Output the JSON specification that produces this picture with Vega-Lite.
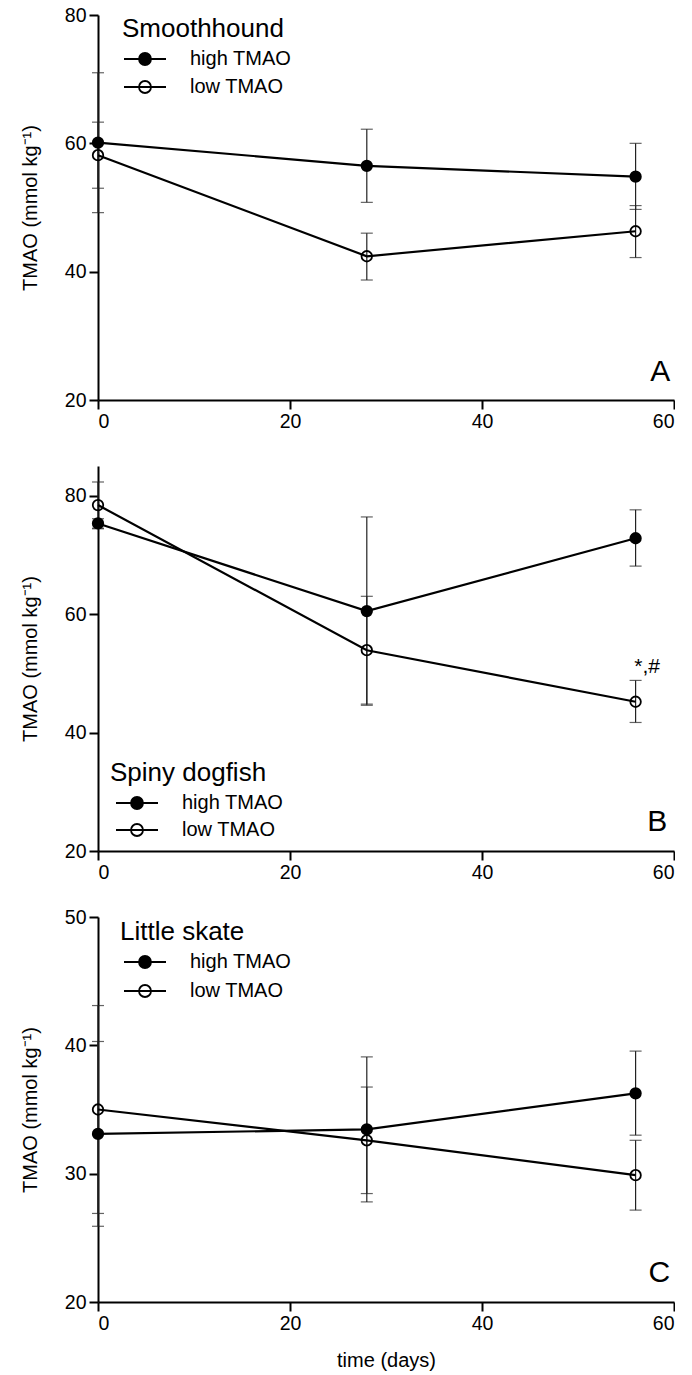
{
  "$schema": "https://vega.github.io/schema/vega-lite/v6.json",
  "padding": {"left": 20, "top": 5, "right": 0, "bottom": 0},
  "background": "white",
  "config": {
    "font": "Liberation Sans",
    "view": {"stroke": null},
    "axis": {"grid": false, "domainColor": "black", "domainWidth": 2, "tickColor": "black", "tickWidth": 2, "tickSize": 9, "labelFontSize": 19.5, "labelColor": "black", "labelPadding": 3, "titleFontSize": 20, "titleFontWeight": "normal", "titleColor": "black", "labelFont": "Liberation Sans", "titleFont": "Liberation Sans"},
    "legend": {"padding": 0, "symbolType": "M-3.5,0L3.5,0M1,0A1,1,0,1,1,-1,0A1,1,0,1,1,1,0", "symbolSize": 144, "symbolStrokeColor": "black", "symbolStrokeWidth": 1.8, "labelOffset": 35, "rowPadding": 8, "titlePadding": 7, "titleFontSize": 26, "titleFontWeight": "normal", "titleColor": "black", "labelFontSize": 20, "labelColor": "black", "titleFont": "Liberation Sans", "labelFont": "Liberation Sans", "orient": "none"}
  },
  "datasets": {
    "smooth": [
      {"series": "high TMAO", "day": 0, "mean": 60.1, "lo": 49.2, "hi": 71.0},
      {"series": "high TMAO", "day": 28, "mean": 56.5, "lo": 50.8, "hi": 62.2},
      {"series": "high TMAO", "day": 56, "mean": 54.8, "lo": 49.7, "hi": 60.0},
      {"series": "low TMAO", "day": 0, "mean": 58.15, "lo": 53.0, "hi": 63.3},
      {"series": "low TMAO", "day": 28, "mean": 42.4, "lo": 38.7, "hi": 46.0},
      {"series": "low TMAO", "day": 56, "mean": 46.3, "lo": 42.2, "hi": 50.3}
    ],
    "dogfish": [
      {"series": "high TMAO", "day": 0, "mean": 75.3, "lo": 74.5, "hi": 76.1},
      {"series": "high TMAO", "day": 28, "mean": 60.5, "lo": 44.6, "hi": 76.4},
      {"series": "high TMAO", "day": 56, "mean": 72.8, "lo": 68.1, "hi": 77.6},
      {"series": "low TMAO", "day": 0, "mean": 78.4, "lo": 74.4, "hi": 82.3},
      {"series": "low TMAO", "day": 28, "mean": 53.9, "lo": 44.8, "hi": 63.0},
      {"series": "low TMAO", "day": 56, "mean": 45.2, "lo": 41.7, "hi": 48.8}
    ],
    "skate": [
      {"series": "high TMAO", "day": 0, "mean": 33.1, "lo": 25.9, "hi": 40.3},
      {"series": "high TMAO", "day": 28, "mean": 33.45, "lo": 27.8, "hi": 39.1},
      {"series": "high TMAO", "day": 56, "mean": 36.26, "lo": 33.0, "hi": 39.55},
      {"series": "low TMAO", "day": 0, "mean": 35.0, "lo": 26.9, "hi": 43.1},
      {"series": "low TMAO", "day": 28, "mean": 32.6, "lo": 28.45, "hi": 36.75},
      {"series": "low TMAO", "day": 56, "mean": 29.88, "lo": 27.16, "hi": 32.6}
    ],
    "letters": [
      {"panel": "A", "text": "A", "day": 59.6, "tmao": 23.0},
      {"panel": "B", "text": "B", "day": 59.3, "tmao": 23.3},
      {"panel": "C", "text": "C", "day": 59.6, "tmao": 21.55}
    ],
    "notes": [
      {"panel": "B", "text": "*,#", "day": 57.2, "tmao": 50.1}
    ]
  },
  "vconcat": [
    {
      "width": 576, "height": 385,
      "data": {"name": "smooth"},
      "layer": [
        {"mark": {"type": "rule", "color": "#222", "strokeWidth": 1.2, "clip": false},
         "encoding": {"x": {"field": "day", "type": "quantitative", "scale": {"domain": [0, 60], "nice": false}, "axis": {"values": [0, 20, 40, 60], "title": null}},
                      "y": {"field": "lo", "type": "quantitative", "scale": {"domain": [20, 80], "nice": false, "zero": false}, "axis": {"values": [20, 40, 60, 80], "title": "TMAO (mmol kg⁻¹)", "titlePadding": 24}},
                      "y2": {"field": "hi"}}},
        {"mark": {"type": "tick", "orient": "horizontal", "size": 12, "thickness": 1.2, "color": "#222"},
         "encoding": {"x": {"field": "day", "type": "quantitative"}, "y": {"field": "lo", "type": "quantitative"}}},
        {"mark": {"type": "tick", "orient": "horizontal", "size": 12, "thickness": 1.2, "color": "#222"},
         "encoding": {"x": {"field": "day", "type": "quantitative"}, "y": {"field": "hi", "type": "quantitative"}}},
        {"mark": {"type": "line", "color": "black", "strokeWidth": 2.2},
         "encoding": {"x": {"field": "day", "type": "quantitative"}, "y": {"field": "mean", "type": "quantitative"}, "detail": {"field": "series"}}},
        {"mark": {"type": "point", "filled": true, "stroke": "black", "strokeWidth": 1.8, "size": 110, "opacity": 1, "shape": "circle"},
         "encoding": {"x": {"field": "day", "type": "quantitative"}, "y": {"field": "mean", "type": "quantitative"},
                      "fill": {"field": "series", "type": "nominal", "scale": {"domain": ["high TMAO", "low TMAO"], "range": ["black", "transparent"]},
                               "legend": {"title": "Smoothhound", "legendX": 24, "legendY": 1, "symbolOffset": 13}}}},
        {"data": {"name": "letters"}, "transform": [{"filter": "datum.panel == 'A'"}],
         "mark": {"type": "text", "align": "right", "baseline": "alphabetic", "fontSize": 30, "color": "black"},
         "encoding": {"x": {"field": "day", "type": "quantitative"}, "y": {"field": "tmao", "type": "quantitative"}, "text": {"field": "text"}}}
      ]
    },
    {
      "width": 576, "height": 385,
      "data": {"name": "dogfish"},
      "layer": [
        {"mark": {"type": "rule", "color": "#222", "strokeWidth": 1.2, "clip": false},
         "encoding": {"x": {"field": "day", "type": "quantitative", "scale": {"domain": [0, 60], "nice": false}, "axis": {"values": [0, 20, 40, 60], "title": null}},
                      "y": {"field": "lo", "type": "quantitative", "scale": {"domain": [20, 85], "nice": false, "zero": false}, "axis": {"values": [20, 40, 60, 80], "title": "TMAO (mmol kg⁻¹)", "titlePadding": 24}},
                      "y2": {"field": "hi"}}},
        {"mark": {"type": "tick", "orient": "horizontal", "size": 12, "thickness": 1.2, "color": "#222"},
         "encoding": {"x": {"field": "day", "type": "quantitative"}, "y": {"field": "lo", "type": "quantitative"}}},
        {"mark": {"type": "tick", "orient": "horizontal", "size": 12, "thickness": 1.2, "color": "#222"},
         "encoding": {"x": {"field": "day", "type": "quantitative"}, "y": {"field": "hi", "type": "quantitative"}}},
        {"mark": {"type": "line", "color": "black", "strokeWidth": 2.2},
         "encoding": {"x": {"field": "day", "type": "quantitative"}, "y": {"field": "mean", "type": "quantitative"}, "detail": {"field": "series"}}},
        {"mark": {"type": "point", "filled": true, "stroke": "black", "strokeWidth": 1.8, "size": 110, "opacity": 1, "shape": "circle"},
         "encoding": {"x": {"field": "day", "type": "quantitative"}, "y": {"field": "mean", "type": "quantitative"},
                      "fill": {"field": "series", "type": "nominal", "scale": {"domain": ["high TMAO", "low TMAO"], "range": ["black", "transparent"]},
                               "legend": {"title": "Spiny dogfish", "legendX": 12, "legendY": 294, "symbolOffset": 17, "rowPadding": 7}}}},
        {"data": {"name": "letters"}, "transform": [{"filter": "datum.panel == 'B'"}],
         "mark": {"type": "text", "align": "right", "baseline": "alphabetic", "fontSize": 30, "color": "black"},
         "encoding": {"x": {"field": "day", "type": "quantitative"}, "y": {"field": "tmao", "type": "quantitative"}, "text": {"field": "text"}}},
        {"data": {"name": "notes"},
         "mark": {"type": "text", "align": "center", "baseline": "alphabetic", "fontSize": 21, "color": "black"},
         "encoding": {"x": {"field": "day", "type": "quantitative"}, "y": {"field": "tmao", "type": "quantitative"}, "text": {"field": "text"}}}
      ]
    },
    {
      "width": 576, "height": 385,
      "data": {"name": "skate"},
      "layer": [
        {"mark": {"type": "rule", "color": "#222", "strokeWidth": 1.2, "clip": false},
         "encoding": {"x": {"field": "day", "type": "quantitative", "scale": {"domain": [0, 60], "nice": false}, "axis": {"values": [0, 20, 40, 60], "title": "time (days)", "titlePadding": 18}},
                      "y": {"field": "lo", "type": "quantitative", "scale": {"domain": [20, 50], "nice": false, "zero": false}, "axis": {"values": [20, 30, 40, 50], "title": "TMAO (mmol kg⁻¹)", "titlePadding": 24}},
                      "y2": {"field": "hi"}}},
        {"mark": {"type": "tick", "orient": "horizontal", "size": 12, "thickness": 1.2, "color": "#222"},
         "encoding": {"x": {"field": "day", "type": "quantitative"}, "y": {"field": "lo", "type": "quantitative"}}},
        {"mark": {"type": "tick", "orient": "horizontal", "size": 12, "thickness": 1.2, "color": "#222"},
         "encoding": {"x": {"field": "day", "type": "quantitative"}, "y": {"field": "hi", "type": "quantitative"}}},
        {"mark": {"type": "line", "color": "black", "strokeWidth": 2.2},
         "encoding": {"x": {"field": "day", "type": "quantitative"}, "y": {"field": "mean", "type": "quantitative"}, "detail": {"field": "series"}}},
        {"mark": {"type": "point", "filled": true, "stroke": "black", "strokeWidth": 1.8, "size": 110, "opacity": 1, "shape": "circle"},
         "encoding": {"x": {"field": "day", "type": "quantitative"}, "y": {"field": "mean", "type": "quantitative"},
                      "fill": {"field": "series", "type": "nominal", "scale": {"domain": ["high TMAO", "low TMAO"], "range": ["black", "transparent"]},
                               "legend": {"title": "Little skate", "legendX": 22, "legendY": 2, "symbolOffset": 15, "rowPadding": 9}}}},
        {"data": {"name": "letters"}, "transform": [{"filter": "datum.panel == 'C'"}],
         "mark": {"type": "text", "align": "right", "baseline": "alphabetic", "fontSize": 30, "color": "black"},
         "encoding": {"x": {"field": "day", "type": "quantitative"}, "y": {"field": "tmao", "type": "quantitative"}, "text": {"field": "text"}}}
      ]
    }
  ],
  "spacing": 66,
  "bounds": "flush",
  "resolve": {"scale": {"fill": "independent", "x": "independent", "y": "independent"}, "legend": {"fill": "independent"}}
}
